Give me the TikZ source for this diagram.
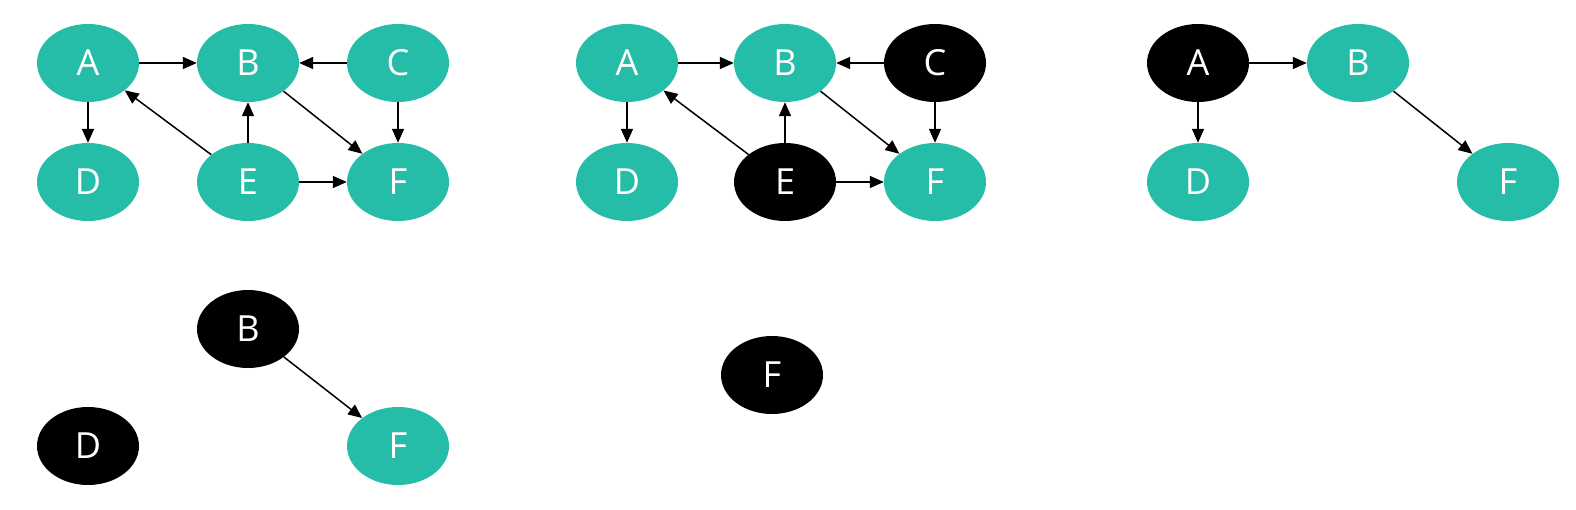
\documentclass[tikz,border=0pt]{standalone}
\usepackage{fontspec}
\setmainfont{Open Sans}
\usetikzlibrary{shapes.geometric,arrows.meta}
\definecolor{teal1}{RGB}{38,189,168}
\tikzset{
  vtx/.style={ellipse, minimum width=102pt, minimum height=78pt, inner sep=0pt,
    text=white, font=\fontsize{36}{40}\selectfont},
  grn/.style={vtx, fill=teal1},
  blk/.style={vtx, fill=black},
  edge/.style={line width=1.5pt, -{Triangle[length=14pt,width=12pt]}}
}
\begin{document}
\begin{tikzpicture}[x=1pt,y=-1pt]
\useasboundingbox (0,0) rectangle (1576,509);
% graph 1
\node[grn] (a1) at (88,63) {A};
\node[grn] (b1) at (248,63) {B};
\node[grn] (c1) at (398,63) {C};
\node[grn] (d1) at (88,182) {D};
\node[grn] (e1) at (248,182) {E};
\node[grn] (f1) at (398,182) {F};
\draw[edge] (a1) -- (b1);
\draw[edge] (c1) -- (b1);
\draw[edge] (a1) -- (d1);
\draw[edge] (e1) -- (a1);
\draw[edge] (e1) -- (b1);
\draw[edge] (b1) -- (f1);
\draw[edge] (c1) -- (f1);
\draw[edge] (e1) -- (f1);
% graph 2
\node[grn] (a2) at (627,63) {A};
\node[grn] (b2) at (785,63) {B};
\node[blk] (c2) at (935,63) {C};
\node[grn] (d2) at (627,182) {D};
\node[blk] (e2) at (785,182) {E};
\node[grn] (f2) at (935,182) {F};
\draw[edge] (a2) -- (b2);
\draw[edge] (c2) -- (b2);
\draw[edge] (a2) -- (d2);
\draw[edge] (e2) -- (a2);
\draw[edge] (e2) -- (b2);
\draw[edge] (b2) -- (f2);
\draw[edge] (c2) -- (f2);
\draw[edge] (e2) -- (f2);
% graph 3
\node[blk] (a3) at (1198,63) {A};
\node[grn] (b3) at (1358,63) {B};
\node[grn] (d3) at (1198,182) {D};
\node[grn] (f3) at (1508,182) {F};
\draw[edge] (a3) -- (b3);
\draw[edge] (a3) -- (d3);
\draw[edge] (b3) -- (f3);
% graph 4
\node[blk] (b4) at (248,329) {B};
\node[blk] (d4) at (88,446) {D};
\node[grn] (f4) at (398,446) {F};
\draw[edge] (b4) -- (f4);
% graph 5
\node[blk] (f5) at (772,375) {F};
\end{tikzpicture}
\end{document}
